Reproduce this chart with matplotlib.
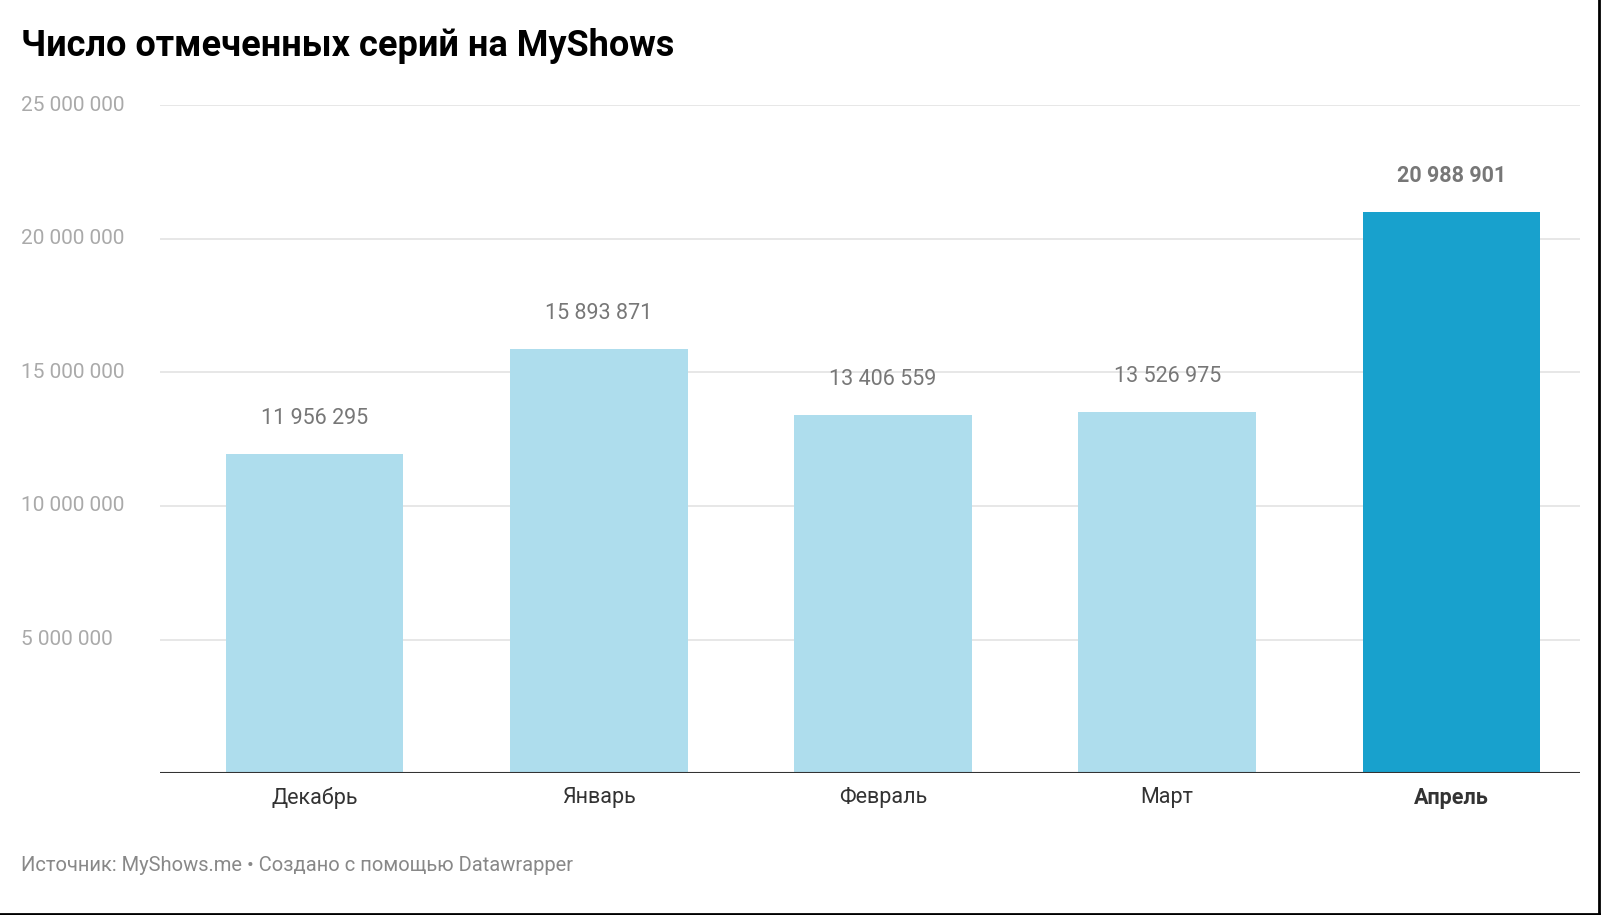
import matplotlib
matplotlib.use("Agg")
import matplotlib.pyplot as plt
from matplotlib.lines import Line2D

months = ["Декабрь", "Январь", "Февраль", "Март", "Апрель"]
values = [11956295, 15893871, 13406559, 13526975, 20988901]
yticks = [5000000, 10000000, 15000000, 20000000, 25000000]
highlight = "Апрель"

plt.rcParams["font.family"] = "Roboto"
W, H = 1601, 915
fig = plt.figure(figsize=(W/100, H/100), dpi=100)
ax = fig.add_axes([0.100, 0.155, 0.887, 0.730])

fmt = lambda v: f"{v:,}".replace(",", " ")
xs = list(range(len(months)))
colors = ["#18a1cd" if m == highlight else "#aedded" for m in months]
ax.bar(xs, values, width=0.625, color=colors, zorder=2)
for x, v, m in zip(xs, values, months):
    ax.annotate(fmt(v), (x, v), xytext=(0, 18), textcoords="offset points",
                ha="center", va="bottom", fontsize=15.5, color="#777777",
                fontweight="bold" if m == highlight else "normal")

ax.set_xlim(-0.543, 4.453)
ax.set_ylim(0, 25000000)
ax.set_yticks(yticks)
ax.set_yticklabels([])
for t in yticks:
    ax.axhline(t, color="#e3e3e3", lw=1.2, zorder=1)
    fig.text(0.013, ax.transData.transform((0, t))[1]/H, fmt(t), fontsize=15,
             color="#aaaaaa", va="center", ha="left")
ax.axhline(0, color="#333333", lw=1.5, zorder=3)
ax.set_xticks(xs)
ax.set_xticklabels(months, fontsize=15.5, color="#333333")
for lbl, m in zip(ax.get_xticklabels(), months):
    if m == highlight:
        lbl.set_fontweight("bold")
ax.tick_params(axis="x", length=0, pad=10)
ax.tick_params(axis="y", length=0)
for s in ax.spines.values():
    s.set_visible(False)

fig.text(0.013, 0.950, "Число отмеченных серий на MyShows", fontsize=26,
         fontweight="bold", color="#000000", va="center", ha="left")
fig.text(0.013, 0.054, "Источник: MyShows.me • Создано с помощью Datawrapper",
         fontsize=14.5, color="#888888", va="center", ha="left")
fig.add_artist(Line2D([0.9985, 0.9985], [0, 1], color="black", lw=2, transform=fig.transFigure))
fig.add_artist(Line2D([0, 1], [0.0015, 0.0015], color="black", lw=2, transform=fig.transFigure))
fig.savefig("out.png", dpi=100, facecolor="white")
